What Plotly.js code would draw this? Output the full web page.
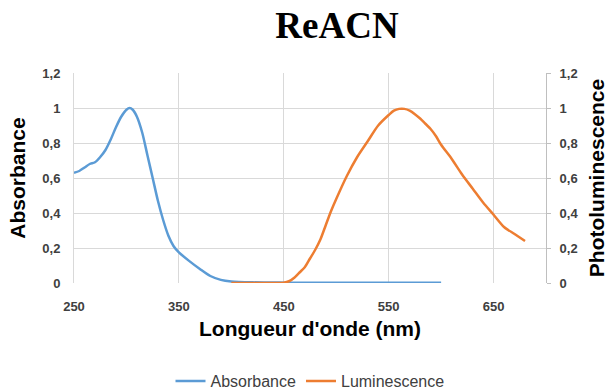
<!DOCTYPE html>
<html><head><meta charset="utf-8">
<script src="https://cdn.plot.ly/plotly-3.0.1.min.js"></script>
<style>body{margin:0;background:#fff}#c{width:608px;height:392px}</style>
</head><body><div id="c"></div>
<script>
const absX = [250,255,260,265,270,275,280,285,290,295,300,303,306,310,315,320,325,330,335,340,345,350,360,370,380,390,400,420,450,500,550,600];
const absY = [0.63,0.64,0.66,0.68,0.69,0.72,0.76,0.82,0.89,0.95,0.99,1.0,0.99,0.95,0.86,0.73,0.6,0.47,0.36,0.27,0.21,0.175,0.125,0.08,0.04,0.018,0.009,0.004,0.002,0.001,0.001,0.001];
const lumX = [400,420,440,450,455,460,465,470,475,480,485,490,495,500,510,520,530,540,550,555,560,565,570,575,580,585,590,595,600,610,620,630,640,650,660,670,680];
const lumY = [0.0,0.0,0.0,0.002,0.01,0.03,0.06,0.09,0.14,0.19,0.25,0.33,0.41,0.48,0.61,0.72,0.81,0.9,0.96,0.985,0.995,0.995,0.985,0.965,0.94,0.91,0.88,0.84,0.79,0.71,0.62,0.54,0.46,0.39,0.32,0.28,0.24];

const tickFont = {family:'Liberation Sans, Arial', size:13, color:'#404040', weight:'bold'};
const titleFont = {family:'Liberation Sans, Arial', size:21, color:'#000', weight:'bold'};
const grid = '#d9d9d9';

const data = [
  {x:absX, y:absY, type:'scatter', mode:'lines', name:'Absorbance', line:{color:'#5b9bd5', width:2.5, shape:'spline', smoothing:0.8}, yaxis:'y'},
  {x:lumX, y:lumY, type:'scatter', mode:'lines', name:'Luminescence', line:{color:'#ed7d31', width:2.5, shape:'spline', smoothing:0.8}, yaxis:'y2'}
];
const layout = {
  width:608, height:392,
  margin:{l:74, r:62, t:73, b:109},
  paper_bgcolor:'#fff', plot_bgcolor:'#fff',
  separators:', ',
  title:{text:'ReACN', font:{family:'Liberation Serif, Times New Roman', size:37, color:'#000', weight:'bold'}, x:337/608, xanchor:'center', y:1-25/392, yanchor:'middle'},
  xaxis:{range:[250,700], tickvals:[250,350,450,550,650], showgrid:true, gridcolor:grid, gridwidth:1, zeroline:false, showline:false, ticks:'outside', ticklen:11, tickcolor:'rgba(0,0,0,0)', tickfont:tickFont, automargin:false,
    title:{text:"Longueur d'onde (nm)", font:titleFont, standoff:8}},
  yaxis:{range:[0,1.2], dtick:0.2, showgrid:true, gridcolor:grid, zeroline:false, showline:true, linecolor:grid, ticks:'outside', ticklen:10, tickcolor:'rgba(0,0,0,0)', tickfont:tickFont, tickformat:'.1~f', automargin:false,
    title:{text:'Absorbance', font:titleFont, standoff:10}},
  yaxis2:{range:[0,1.2], dtick:0.2, overlaying:'y', side:'right', showgrid:false, zeroline:false, showline:true, linecolor:'#bfbfbf', ticks:'outside', ticklen:4, tickcolor:'#bfbfbf', tickfont:tickFont, tickformat:'.1~f', automargin:false, ticklabelstandoff:6,
    title:{text:'Photoluminescence', font:titleFont, standoff:12}},
  showlegend:true,
  legend:{orientation:'h', x:0.5, xanchor:'center', xref:'paper', yref:'container', y:11/392, yanchor:'middle', font:{family:'Liberation Sans, Arial', size:16, color:'#404040'}, itemwidth:30}
};
Plotly.newPlot('c', data, layout, {displayModeBar:false, staticPlot:true});
</script></body></html>
